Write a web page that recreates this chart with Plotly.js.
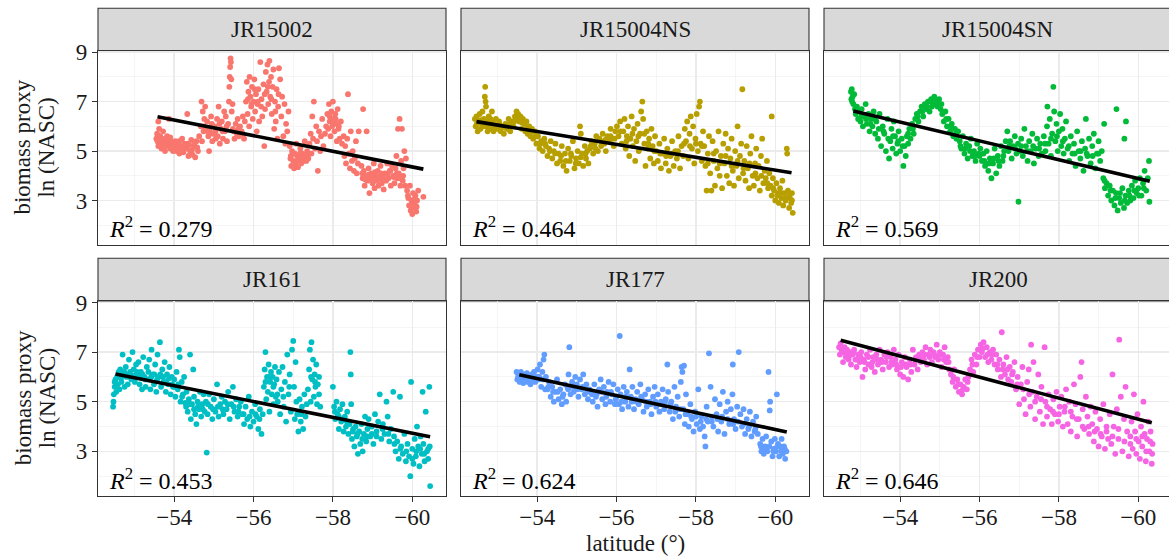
<!DOCTYPE html>
<html>
<head>
<meta charset="utf-8">
<script src="https://cdn.plot.ly/plotly-3.0.1.min.js"></script>
<style>html,body{margin:0;padding:0;overflow:hidden;background:#fff}#chart{width:1173px;height:558px}</style>
</head>
<body>
<div id="chart"></div>
<script>
// ---------- data ----------
const panelNames = ['JR15002', 'JR15004NS', 'JR15004SN', 'JR161', 'JR177', 'JR200'];
const panelColors = ['#F8766D', '#B79F00', '#00BA38', '#00BFC4', '#619CFF', '#F564E3'];
const r2Values = ['0.279', '0.464', '0.569', '0.453', '0.624', '0.646'];
// regression line end points: [lat start, lat end], [value start, value end]
const fitLat = [[-53.58, -60.28], [-52.47, -60.41], [-52.82, -60.29], [-52.52, -60.45], [-53.55, -60.29], [-52.50, -60.34]];
const fitVal = [[6.39, 4.27], [6.19, 4.12], [6.62, 3.78], [6.12, 3.59], [6.09, 3.78], [7.48, 4.15]];
const yTicks = [3, 5, 7, 9];
const xTicks = [-54, -56, -58, -60];

// [latitude, ln(NASC)] pairs
const jr15002 = [[-53.55,5.5],[-53.57,5.7],[-53.58,5.4],[-53.6,6.2],[-53.62,5.9],[-53.63,5.3],[-53.65,5.6],[-53.68,5.1],[-53.7,5.5],[-53.72,5.8],[-53.75,5.3],[-53.77,5.0],[-53.8,5.4],[-53.82,5.6],[-53.85,5.2],[-53.87,6.3],[-53.9,5.1],[-53.92,5.4],[-53.95,5.3],[-53.97,5.0],[-54.0,5.2],
[-54.03,5.4],[-54.06,5.0],[-54.1,5.3],[-54.13,4.9],[-54.16,5.2],[-54.2,5.5],[-54.23,4.95],[-54.27,5.1],[-54.33,6.5],[-54.33,5.3],[-54.36,4.8],[-54.4,5.0],[-54.43,5.45],[-54.46,4.85],[-54.5,5.2],[-54.53,4.75],[-54.56,5.4],[-54.6,5.0],[-54.63,5.6],
[-54.67,6.0],[-54.69,7.0],[-54.7,5.4],[-54.72,6.6],[-54.74,5.8],[-54.76,6.3],[-54.78,6.8],[-54.8,5.9],[-54.83,6.2],[-54.86,5.6],[-54.88,5.0],[-54.9,5.8],[-54.93,6.4],[-54.96,5.4],[-54.98,5.7],
[-55.02,6.0],[-55.05,5.5],[-55.08,6.3],[-55.1,5.6],[-55.12,6.8],[-55.15,5.3],[-55.18,5.9],[-55.2,6.2],[-55.23,5.5],[-55.26,6.6],[-55.28,5.8],[-55.3,6.4],[-55.33,5.4],[-55.36,6.1],[-55.38,7.0],[-55.39,7.6],[-55.4,8.0],[-55.41,8.4],[-55.42,8.75],[-55.43,8.6],[-55.44,7.9],[-55.45,6.6],[-55.47,6.9],[-55.48,5.9],
[-55.52,5.5],[-55.55,6.1],[-55.58,5.7],[-55.6,6.3],[-55.63,5.6],[-55.66,6.0],[-55.7,5.8],[-55.73,6.4],[-55.76,5.5],[-55.78,6.2],
[-55.81,7.0],[-55.83,7.8],[-55.85,6.5],[-55.87,7.4],[-55.89,6.0],[-55.9,8.0],[-55.92,7.2],[-55.94,6.8],[-55.96,7.6],[-55.98,6.3],[-56.0,7.0],[-56.02,7.9],[-56.04,6.6],[-56.06,7.3],[-56.08,5.8],[-56.1,6.9],[-56.12,7.5],[-56.14,6.2],[-56.17,8.6],[-56.2,7.1],[-56.22,6.4],[-56.25,7.7],[-56.27,5.2],[-56.29,6.7],
[-56.31,8.2],[-56.33,7.4],[-56.35,8.5],[-56.37,6.9],[-56.39,7.8],[-56.4,8.65],[-56.42,7.2],[-56.44,8.0],[-56.46,6.5],[-56.48,7.6],[-56.5,8.3],[-56.52,5.9],[-56.54,7.0],[-56.56,6.2],[-56.58,7.5],[-56.6,5.5],[-56.62,6.8],[-56.64,8.35],
[-56.67,7.9],[-56.7,6.4],[-56.72,7.2],[-56.75,5.6],[-56.78,6.9],[-56.8,5.3],[-56.82,6.1],[-56.85,5.8],[-56.88,6.6],
[-56.91,5.2],[-56.93,4.7],[-56.95,4.4],[-56.97,5.0],[-57.0,4.6],[-57.02,4.3],[-57.04,4.9],[-57.06,4.5],[-57.08,5.3],[-57.1,4.8],[-57.12,4.35],[-57.15,4.7],[-57.18,5.1],[-57.2,4.5],[-57.23,4.9],[-57.26,4.6],[-57.29,5.4],[-57.32,4.8],[-57.35,5.0],[-57.38,4.7],
[-57.41,5.3],[-57.44,5.7],[-57.46,4.9],[-57.48,6.4],[-57.5,5.5],[-57.52,7.0],[-57.55,5.1],[-57.58,6.0],[-57.6,5.4],[-57.62,4.2],[-57.65,5.8],[-57.68,5.0],[-57.7,5.6],[-57.73,6.3],[-57.76,5.2],[-57.8,5.7],[-57.83,6.0],
[-57.86,6.5],[-57.88,5.9],[-57.9,6.9],[-57.92,6.2],[-57.94,5.6],[-57.96,6.6],[-57.98,6.0],[-58.0,7.0],[-58.02,6.3],[-58.04,5.8],[-58.06,6.5],[-58.08,6.1],[-58.1,5.4],[-58.12,6.7],[-58.14,5.9],[-58.17,5.5],[-58.2,6.2],[-58.23,5.3],
[-58.27,5.6],[-58.29,4.8],[-58.31,5.2],[-58.33,4.5],[-58.36,5.5],[-58.38,7.3],[-58.4,4.9],[-58.43,4.3],[-58.45,5.8],[-58.48,4.6],[-58.5,5.0],[-58.53,4.2],[-58.55,4.7],[-58.58,5.4],[-58.6,4.1],[-58.63,4.5],[-58.65,5.8],[-58.76,6.7],
[-58.72,4.4],[-58.75,3.9],[-58.78,4.2],[-58.8,3.6],[-58.83,4.0],[-58.85,5.8],[-58.87,3.8],[-58.9,4.3],[-58.92,3.3],[-58.95,3.9],[-58.97,4.1],[-59.0,3.7],[-59.03,4.5],[-59.05,3.5],[-59.08,4.0],[-59.1,3.8],[-59.13,4.2],[-59.15,3.6],[-59.18,3.9],[-59.2,4.4],[-59.23,3.7],[-59.26,4.0],[-59.28,3.45],
[-59.31,4.1],[-59.34,3.8],[-59.37,4.5],[-59.4,3.9],[-59.43,4.2],[-59.46,3.6],[-59.49,4.4],[-59.52,4.0],[-59.55,3.7],[-59.58,4.3],[-59.6,4.8],[-59.62,3.9],[-59.64,5.9],[-59.66,4.1],[-59.68,6.3],[-59.7,3.6],[-59.72,4.6],[-59.74,5.9],[-59.76,3.8],[-59.78,4.3],[-59.8,5.0],[-59.82,3.6],[-59.84,4.7],
[-59.87,3.4],[-59.9,3.1],[-59.92,2.8],[-59.94,3.6],[-59.96,2.6],[-59.98,3.0],[-60.0,2.45],[-60.02,3.3],[-60.04,2.7],[-60.06,2.9],[-60.08,3.2],[-60.1,2.55],[-60.12,3.0],[-60.15,3.4],[-60.28,3.15]];
const jr15002Core = [[-53.6,5.2],[-53.66,5.45],[-53.74,5.15],[-53.83,5.35],[-53.9,5.55],[-53.98,5.3],[-54.05,5.15],[-54.12,5.4],[-54.18,5.05],[-54.25,5.3],[-54.32,5.1],[-54.38,5.25],[-54.45,5.05],[-54.52,5.35],[-54.58,5.15],
[-54.75,6.0],[-54.85,5.8],[-54.95,6.1],[-55.04,5.8],[-55.14,6.1],[-55.22,5.8],[-55.32,6.0],[-55.5,5.8],[-55.62,5.9],[-55.72,5.7],
[-55.86,7.1],[-55.95,6.9],[-56.03,7.5],[-56.11,7.0],[-56.19,6.8],[-56.28,7.3],[-56.36,7.6],[-56.45,7.1],[-56.55,6.6],[-56.63,7.3],
[-56.94,4.8],[-57.01,4.9],[-57.09,4.6],[-57.17,4.9],[-57.25,4.7],[-57.33,4.6],[-57.4,4.9],
[-57.92,6.4],[-58.0,6.2],[-58.07,6.3],[-58.15,6.0],
[-58.74,4.1],[-58.82,3.85],[-58.9,4.05],[-58.98,3.9],[-59.06,4.15],[-59.14,3.95],[-59.22,4.1],[-59.3,3.85],[-59.38,4.05],[-59.45,4.2],[-59.53,3.95],[-59.61,4.1],[-59.69,3.9],[-59.77,4.0],
[-59.89,3.2],[-59.97,2.8],[-60.05,3.05],[-60.11,2.75]];

const jr15004ns = [[-52.43,6.3],[-52.45,6.0],[-52.47,6.4],[-52.5,5.8],[-52.52,6.2],[-52.55,6.5],[-52.57,5.9],[-52.6,6.1],[-52.62,6.6],[-52.64,6.0],[-52.66,6.3],[-52.68,7.2],[-52.69,7.6],[-52.7,7.0],[-52.71,6.8],[-52.73,6.2],[-52.75,5.8],[-52.78,6.4],[-52.8,6.1],[-52.83,5.9],[-52.86,6.6],[-52.88,6.2],[-52.9,5.8],[-52.93,6.0],[-52.96,6.3],
[-53.0,5.9],[-53.04,6.2],[-53.08,5.8],[-53.12,6.0],[-53.16,5.7],[-53.2,6.1],[-53.24,5.9],[-53.28,6.3],[-53.32,5.8],[-53.36,6.2],[-53.4,6.0],[-53.44,6.4],[-53.48,6.6],[-53.52,6.5],[-53.55,6.2],[-53.58,6.4],[-53.61,5.9],[-53.64,6.3],[-53.67,6.1],[-53.7,5.8],[-53.73,6.2],[-53.76,5.7],[-53.8,6.0],[-53.83,5.6],[-53.87,5.9],
[-53.9,5.5],[-53.94,5.8],[-53.98,5.3],[-54.02,5.6],[-54.06,5.1],[-54.1,5.4],[-54.14,5.0],[-54.18,5.5],[-54.22,5.2],[-54.26,4.8],[-54.3,5.1],[-54.34,5.4],[-54.38,4.7],[-54.42,5.0],[-54.46,5.3],[-54.5,4.5],[-54.54,4.9],
[-54.58,4.6],[-54.62,5.2],[-54.66,4.4],[-54.7,4.9],[-54.74,4.2],[-54.78,5.1],[-54.82,4.6],[-54.86,4.8],[-54.9,5.4],[-54.94,4.3],[-54.98,4.7],[-55.02,5.0],[-55.05,4.5],[-55.08,6.0],[-55.1,5.7],[-55.13,4.9],[-55.16,4.4],[-55.2,5.2],[-55.23,4.7],[-55.26,5.0],[-55.29,4.5],
[-55.33,5.1],[-55.37,5.4],[-55.41,4.9],[-55.45,5.3],[-55.49,5.6],[-55.53,5.0],[-55.57,5.5],[-55.61,5.2],[-55.65,5.7],[-55.69,5.3],[-55.73,5.0],[-55.77,5.6],[-55.81,5.4],[-55.85,5.9],[-55.89,5.5],[-55.93,5.2],[-55.97,5.8],[-56.01,6.0],[-56.05,5.6],[-56.09,6.2],[-56.13,5.3],
[-56.17,5.8],[-56.2,6.3],[-56.23,5.1],[-56.26,5.6],[-56.29,6.0],[-56.32,4.8],[-56.35,5.5],[-56.38,6.4],[-56.41,5.2],[-56.44,5.9],[-56.47,4.6],[-56.5,5.4],[-56.53,6.1],[-56.56,5.0],[-56.59,5.7],[-56.62,6.6],[-56.65,7.0],[-56.67,6.3],[-56.7,5.3],[-56.73,4.4],[-56.76,5.8],[-56.79,5.1],[-56.82,5.5],[-56.85,4.7],[-56.88,5.9],[-56.91,5.2],[-56.94,4.5],[-56.97,5.6],
[-57.0,5.0],[-57.04,4.6],[-57.08,5.3],[-57.12,4.3],[-57.16,4.9],[-57.2,5.5],[-57.24,4.5],[-57.28,5.1],[-57.32,4.2],[-57.36,4.8],[-57.4,5.4],[-57.44,4.4],[-57.48,5.0],[-57.52,4.7],[-57.56,5.6],[-57.6,4.3],[-57.64,5.2],[-57.68,4.8],
[-57.72,5.9],[-57.75,5.4],[-57.78,6.2],[-57.81,4.7],[-57.84,5.7],[-57.87,6.4],[-57.9,5.1],[-57.93,6.0],[-57.96,4.5],[-57.99,5.5],[-58.02,6.5],[-58.05,5.0],[-58.08,6.8],[-58.1,7.0],[-58.12,5.3],[-58.15,4.6],[-58.18,5.8],
[-58.21,5.2],[-58.24,4.4],[-58.27,3.4],[-58.3,4.9],[-58.33,5.6],[-58.36,4.1],[-58.39,3.4],[-58.42,5.4],[-58.45,4.6],[-58.48,3.6],[-58.51,5.0],[-58.54,4.3],[-58.57,5.8],[-58.6,4.0],[-58.63,4.8],[-58.66,3.5],[-58.69,5.3],
[-58.72,4.5],[-58.75,5.7],[-58.78,4.0],[-58.81,5.1],[-58.84,3.7],[-58.87,4.7],[-58.9,5.5],[-58.93,4.2],[-58.96,3.6],[-58.99,5.0],[-59.02,4.4],[-59.05,6.0],[-59.08,3.9],[-59.11,4.8],[-59.14,5.3],[-59.17,7.5],[-59.19,4.1],
[-59.22,4.6],[-59.25,3.8],[-59.28,5.2],[-59.31,4.3],[-59.34,3.5],[-59.37,4.9],[-59.4,5.6],[-59.43,4.0],[-59.46,3.6],[-59.49,4.5],[-59.52,5.1],[-59.55,3.9],[-59.58,4.4],[-59.61,3.4],[-59.64,4.8],[-59.67,5.5],[-59.7,3.7],[-59.73,4.2],[-59.76,3.9],[-59.79,4.6],[-59.82,3.5],[-59.85,4.1],[-59.91,6.4],
[-59.88,3.6],[-59.91,3.2],[-59.94,3.9],[-59.97,3.4],[-60.0,3.0],[-60.03,3.7],[-60.06,3.3],[-60.09,2.9],[-60.12,3.5],[-60.15,3.1],[-60.18,3.8],[-60.2,2.8],[-60.23,3.3],[-60.26,3.0],[-60.29,5.1],[-60.3,4.9],[-60.32,3.4],[-60.35,2.7],[-60.37,3.1],[-60.4,2.9],[-60.42,3.3],[-60.44,2.5]];
const jr15004nsCore = [[-52.48,6.1],[-52.58,6.25],[-52.72,6.0],[-52.82,6.3],[-52.95,6.05],[-53.06,6.05],[-53.18,5.95],[-53.3,6.1],[-53.42,6.2],[-53.5,6.3],[-53.62,6.15],[-53.75,6.0],[-53.85,5.8],[-53.96,5.6],[-54.08,5.3],[-54.2,5.3],[-54.32,5.0],[-54.45,4.9],[-54.6,4.8],[-54.72,4.6],[-54.85,4.9],[-54.97,4.5],[-55.1,4.75],[-55.22,4.9],[-55.35,5.2],[-55.47,5.1],[-55.6,5.4],[-55.72,5.45],[-55.85,5.6],[-55.95,5.5],[-56.1,5.8],[-56.25,5.4],[-56.4,5.7],[-56.55,5.6],[-56.7,5.7],[-56.8,5.3],[-56.95,5.0],[-57.1,4.9],[-57.25,4.8],[-57.4,4.9],[-57.55,5.0],[-57.7,5.3],[-57.85,5.2],[-58.0,5.3],[-58.15,5.2],[-58.3,4.5],[-58.45,4.9],[-58.6,4.5],[-58.75,4.8],[-58.9,4.4],[-59.05,4.6],[-59.2,4.3],[-59.35,4.5],[-59.5,4.1],[-59.65,4.0],[-59.8,3.7],[-59.95,3.5],[-60.05,3.2],[-60.15,3.3],[-60.25,3.1],[-60.35,3.2],[-60.42,3.0]];

const jr15004sn = [[-52.76,7.4],[-52.77,7.1],[-52.78,7.5],[-52.8,7.2],[-52.82,6.9],[-52.84,7.3],[-52.86,6.7],
[-52.88,6.5],[-52.91,6.8],[-52.94,6.3],[-52.97,6.6],[-53.0,6.2],[-53.03,6.7],[-53.06,6.0],[-53.1,6.4],[-53.13,6.9],[-53.16,6.1],[-53.2,6.5],[-53.23,5.8],[-53.26,6.3],[-53.3,6.0],[-53.33,6.6],[-53.37,5.7],
[-53.4,6.2],[-53.44,5.5],[-53.48,6.5],[-53.52,5.2],[-53.56,6.0],[-53.6,5.7],[-53.64,5.0],[-53.68,6.3],[-53.72,4.7],[-53.75,5.4],[-53.78,5.9],[-53.81,5.1],[-53.84,6.2],[-53.87,5.6],[-53.9,4.9],[-53.93,5.3],[-53.96,5.8],[-54.0,5.0],[-54.04,5.5],[-54.08,4.4],[-54.11,5.2],[-54.14,4.8],
[-54.17,5.6],[-54.2,5.3],[-54.23,5.9],[-54.26,5.5],[-54.3,6.1],[-54.34,5.7],[-54.38,6.3],[-54.42,6.5],[-54.46,6.2],
[-54.5,6.6],[-54.54,6.8],[-54.58,6.4],[-54.62,6.9],[-54.66,6.7],[-54.7,7.0],[-54.74,6.6],[-54.78,7.1],[-54.82,6.9],[-54.86,7.2],[-54.9,7.0],[-54.94,6.8],[-54.98,7.1],[-55.02,6.7],
[-55.06,6.5],[-55.1,6.2],[-55.14,6.6],[-55.18,6.0],[-55.22,6.3],[-55.26,5.8],[-55.3,6.1],[-55.34,5.6],[-55.38,5.9],[-55.42,5.5],[-55.46,5.8],
[-55.5,5.4],[-55.54,5.1],[-55.58,5.6],[-55.62,4.9],[-55.66,5.3],[-55.7,4.7],[-55.74,5.2],[-55.78,5.5],[-55.82,4.8],[-55.86,5.0],[-55.9,4.6],[-55.94,5.3],[-55.98,4.9],[-56.02,5.1],[-56.06,4.6],
[-56.1,4.9],[-56.14,4.4],[-56.18,5.0],[-56.22,4.2],[-56.26,4.7],[-56.3,3.9],[-56.34,4.5],[-56.38,5.1],[-56.42,4.1],[-56.46,4.8],[-56.5,4.4],[-56.54,5.2],[-56.58,4.6],[-56.62,5.0],[-56.66,5.4],[-56.7,5.8],[-56.98,2.95],
[-56.73,5.0],[-56.77,5.4],[-56.81,4.7],[-56.85,5.2],[-56.89,5.6],[-56.93,4.9],[-56.97,5.3],[-57.01,5.0],[-57.05,5.5],[-57.09,4.8],[-57.13,5.9],[-57.17,5.2],[-57.21,4.6],[-57.25,5.4],[-57.29,5.0],[-57.33,5.7],[-57.37,4.5],[-57.41,5.1],[-57.45,5.5],[-57.49,4.8],[-57.53,5.3],[-57.57,4.9],
[-57.62,5.6],[-57.66,5.0],[-57.7,6.0],[-57.71,6.8],[-57.74,5.3],[-57.77,6.3],[-57.8,4.8],[-57.83,5.7],[-57.86,7.6],[-57.88,6.6],[-57.91,5.4],[-57.94,6.1],[-57.97,5.0],[-58.0,5.8],[-58.03,6.5],[-58.06,5.2],[-58.09,5.9],[-58.12,4.9],[-58.15,5.5],[-58.18,6.2],
[-58.22,5.1],[-58.26,4.6],[-58.3,5.6],[-58.34,4.9],[-58.38,5.3],[-58.42,4.4],[-58.46,5.8],[-58.5,5.0],[-58.54,4.7],[-58.58,5.4],[-58.62,4.2],[-58.66,5.1],[-58.68,6.3],[-58.72,4.8],[-58.76,5.5],[-58.8,4.5],[-58.84,5.2],[-58.88,5.7],[-58.92,4.3],[-58.96,4.9],[-59.0,5.4],[-59.04,4.6],[-59.08,5.0],[-59.14,6.1],
[-59.12,3.9],[-59.16,3.5],[-59.2,3.7],[-59.24,3.2],[-59.28,3.6],[-59.32,3.0],[-59.36,3.4],[-59.4,2.8],[-59.44,3.3],[-59.45,6.7],[-59.48,2.6],[-59.52,3.1],[-59.56,2.9],[-59.6,3.5],[-59.64,2.7],[-59.65,5.5],[-59.68,3.2],[-59.69,6.2],[-59.72,2.9],[-59.76,3.4],[-59.8,3.0],[-59.84,3.6],[-59.88,3.1],[-59.92,3.8],[-59.96,3.3],[-60.0,3.5],[-60.04,3.9],[-60.08,3.2],
[-60.12,3.7],[-60.16,4.2],[-60.2,3.4],[-60.24,3.9],[-60.27,4.6],[-60.28,2.95]];
const jr15004snCore = [[-52.79,7.0],[-52.9,6.6],[-53.02,6.4],[-53.14,6.3],[-53.25,6.1],[-53.35,6.3],[-53.46,5.9],[-53.58,5.8],[-53.7,5.5],[-53.82,5.6],[-53.95,5.4],[-54.06,5.2],[-54.2,5.7],[-54.32,5.9],[-54.44,6.4],[-54.56,6.6],[-54.68,6.8],[-54.8,6.8],[-54.92,6.9],[-55.04,6.9],[-55.16,6.3],[-55.28,6.0],[-55.4,5.7],[-55.52,5.2],[-55.64,5.1],[-55.76,5.0],[-55.88,4.8],[-56.0,4.8],[-56.12,4.6],[-56.24,4.5],[-56.36,4.7],[-56.48,4.6],[-56.6,4.8],[-56.75,5.2],[-56.9,5.1],[-57.05,5.2],[-57.2,5.0],[-57.35,5.2],[-57.5,5.1],[-57.65,5.3],[-57.8,5.5],[-57.95,5.6],[-58.1,5.4],[-58.25,5.2],[-58.4,4.9],[-58.55,5.0],[-58.7,4.9],[-58.85,4.8],[-59.0,4.9],[-59.15,3.8],[-59.3,3.4],[-59.42,3.1],[-59.54,3.3],[-59.66,3.0],[-59.78,3.2],[-59.9,3.4],[-60.02,3.2],[-60.14,3.5]];

const jr161 = [[-52.46,4.8],[-52.47,5.0],[-52.48,5.3],[-52.5,5.6],[-52.52,5.9],[-52.54,5.4],[-52.56,6.0],[-52.58,5.7],[-52.6,6.2],[-52.62,5.5],
[-52.64,6.3],[-52.67,5.8],[-52.7,6.9],[-52.72,6.1],[-52.75,5.6],[-52.78,6.4],[-52.8,6.0],[-52.83,5.7],[-52.86,6.7],[-52.89,6.2],[-52.92,5.9],[-52.95,7.0],[-52.98,6.3],[-53.01,5.8],[-53.04,6.5],[-53.07,6.0],
[-53.1,6.6],[-53.13,5.7],[-53.16,6.2],[-53.19,5.5],[-53.22,6.8],[-53.25,6.0],[-53.28,5.6],[-53.31,6.4],[-53.34,5.9],[-53.37,6.7],[-53.4,5.5],[-53.43,7.1],[-53.46,6.1],[-53.49,5.7],[-53.52,6.5],[-53.55,5.4],[-53.58,6.9],[-53.61,6.0],[-53.64,7.4],[-53.67,5.6],[-53.7,6.3],[-53.73,5.8],[-53.76,6.6],[-53.79,5.4],[-53.82,6.1],[-53.85,5.7],[-53.88,6.4],[-53.91,5.3],[-53.94,6.0],[-53.97,5.6],
[-54.0,5.9],[-54.03,5.2],[-54.06,6.2],[-54.09,5.5],[-54.12,7.1],[-54.14,6.8],[-54.16,5.0],[-54.19,5.8],[-54.22,5.3],[-54.25,6.0],[-54.28,4.95],
[-54.31,5.4],[-54.34,4.6],[-54.37,5.1],[-54.4,6.9],[-54.42,4.3],[-54.45,4.9],[-54.48,6.3],[-54.5,5.2],[-54.53,4.5],[-54.56,4.1],[-54.59,5.0],[-54.62,4.7],[-54.65,5.4],[-54.68,4.4],[-54.71,4.9],[-54.74,5.3],[-54.77,4.6],[-54.82,2.95],
[-54.8,5.0],[-54.84,4.5],[-54.88,5.3],[-54.92,4.8],[-54.96,4.3],[-55.0,5.1],[-55.04,4.6],[-55.08,5.7],[-55.12,4.4],[-55.16,4.9],[-55.2,5.2],[-55.24,4.5],[-55.28,5.0],[-55.32,4.7],[-55.36,5.4],[-55.4,4.3],[-55.44,4.9],[-55.48,5.6],[-55.52,4.6],[-55.56,5.1],[-55.6,4.4],[-55.64,4.8],
[-55.68,5.0],[-55.72,4.5],[-55.76,4.1],[-55.8,4.8],[-55.84,4.3],[-55.88,5.2],[-55.92,4.0],[-55.96,4.6],[-56.0,4.2],[-56.04,4.9],[-56.08,4.4],[-56.12,3.9],[-56.16,4.7],[-56.2,3.7],[-56.23,4.5],
[-56.26,5.6],[-56.28,6.3],[-56.3,7.0],[-56.32,5.1],[-56.34,6.0],[-56.36,5.4],[-56.38,6.5],[-56.4,4.6],[-56.42,5.8],[-56.44,6.2],[-56.46,5.3],[-56.48,6.0],[-56.5,4.9],[-56.52,5.7],[-56.54,6.4],[-56.56,5.2],[-56.58,5.9],
[-56.61,5.0],[-56.64,6.2],[-56.67,4.5],[-56.7,5.5],[-56.73,6.4],[-56.76,4.8],[-56.79,5.8],[-56.82,4.2],[-56.85,6.9],[-56.88,5.3],[-56.91,6.1],[-56.94,4.6],[-56.97,7.1],[-57.0,7.45],[-57.02,5.6],[-57.04,4.3],[-57.06,6.6],[-57.08,5.0],
[-57.1,4.5],[-57.13,3.8],[-57.16,5.1],[-57.19,4.2],[-57.22,4.8],[-57.25,3.9],[-57.28,5.3],[-57.31,4.4],[-57.34,4.9],
[-57.37,5.5],[-57.4,6.3],[-57.42,7.1],[-57.44,5.0],[-57.46,7.4],[-57.48,5.9],[-57.5,6.7],[-57.52,5.2],[-57.54,6.1],[-57.56,5.6],[-57.58,6.5],[-57.6,4.9],[-57.62,5.7],[-57.65,5.3],[-57.68,4.8],
[-58.0,5.6],[-58.03,4.8],[-58.06,4.3],[-58.09,5.0],[-58.12,4.5],[-58.15,3.9],[-58.18,4.7],[-58.21,4.2],[-58.24,4.9],[-58.27,3.8],[-58.3,4.4],[-58.33,4.0],[-58.36,4.6],[-58.39,3.7],
[-58.42,4.1],[-58.44,7.0],[-58.45,6.1],[-58.46,4.9],[-58.48,3.5],[-58.51,3.9],[-58.54,3.2],[-58.57,4.0],[-58.6,3.6],[-58.63,2.9],[-58.66,3.8],[-58.69,3.3],[-58.72,4.1],[-58.75,3.0],[-58.78,3.7],[-58.81,4.4],[-58.84,3.4],[-58.87,3.9],
[-58.9,4.3],[-58.94,3.6],[-58.98,4.0],[-59.02,3.3],[-59.06,4.5],[-59.1,3.8],[-59.14,4.2],[-59.18,5.3],[-59.22,3.5],[-59.26,4.1],[-59.3,3.7],[-59.35,5.0],[-59.38,4.4],[-59.42,3.4],[-59.46,3.9],
[-59.52,5.4],[-59.54,3.6],[-59.58,3.0],[-59.62,3.4],[-59.66,2.7],[-59.69,5.2],[-59.72,3.2],[-59.76,2.9],[-59.8,3.7],[-59.84,2.6],[-59.88,3.3],[-59.92,2.8],
[-59.95,2.0],[-59.97,5.8],[-60.0,3.1],[-60.03,2.5],[-60.06,3.5],[-60.09,2.8],[-60.12,4.0],[-60.15,3.2],[-60.18,2.4],[-60.21,3.6],[-60.24,2.9],[-60.26,5.4],[-60.28,3.3],[-60.31,2.6],[-60.34,4.6],[-60.37,3.0],[-60.4,2.7],[-60.43,5.6],[-60.44,3.2],[-60.45,1.6]];
const jr161Core = [[-52.5,5.8],[-52.58,6.05],[-52.66,5.95],[-52.74,6.2],[-52.82,6.1],[-52.9,6.0],[-52.98,6.05],[-53.06,6.2],[-53.14,6.0],[-53.2,6.1],[-53.27,5.9],[-53.35,6.2],[-53.42,6.0],[-53.5,6.1],[-53.57,5.9],[-53.65,6.1],[-53.72,6.0],[-53.8,5.8],[-53.87,5.95],[-53.95,5.7],[-54.02,5.6],[-54.1,5.7],[-54.2,5.2],[-54.3,4.8],[-54.4,4.9],[-54.5,4.7],[-54.6,4.8],[-54.72,4.7],[-54.85,4.9],[-54.98,4.7],[-55.1,4.8],[-55.22,4.7],[-55.35,4.9],[-55.5,4.8],[-55.62,4.6],[-55.75,4.5],[-55.9,4.4],[-56.05,4.5],[-56.15,4.3],[-56.3,5.8],[-56.4,6.0],[-56.5,5.6],[-56.6,5.3],[-56.75,5.2],[-56.9,5.6],[-57.2,4.5],[-57.45,6.0],[-57.55,5.8],[-57.65,6.0],[-58.05,4.6],[-58.15,4.4],[-58.25,4.3],[-58.35,4.2],[-58.5,3.8],[-58.62,3.7],[-58.74,3.5],[-58.86,3.6],[-58.98,3.7],[-59.1,3.6],[-59.25,3.9],[-59.4,3.7],[-59.55,3.3],[-59.7,3.1],[-59.85,3.0],[-60.0,2.7],[-60.1,3.0],[-60.2,3.1],[-60.3,2.9],[-60.4,3.1]];

const jr177 = [[-53.48,6.2],[-53.5,5.9],[-53.53,6.1],[-53.56,5.8],[-53.59,6.2],[-53.62,6.0],[-53.65,5.75],[-53.68,6.1],[-53.71,5.9],[-53.74,6.15],[-53.77,5.8],[-53.8,6.0],[-53.83,5.7],[-53.86,6.1],[-53.89,5.9],[-53.92,6.2],[-53.95,5.8],[-53.98,6.0],
[-54.01,6.3],[-54.04,5.9],[-54.07,6.5],[-54.1,5.6],[-54.13,6.2],[-54.16,6.7],[-54.18,6.9],[-54.2,5.5],[-54.22,6.0],
[-54.26,5.5],[-54.3,5.8],[-54.34,5.2],[-54.38,5.6],[-54.42,5.0],[-54.46,5.4],[-54.5,5.9],[-54.54,5.1],[-54.58,5.5],[-54.62,4.9],[-54.66,5.3],[-54.7,5.7],[-54.73,5.0],
[-54.76,5.6],[-54.79,6.1],[-54.81,7.2],[-54.84,5.3],[-54.88,5.8],[-54.92,5.4],[-54.96,6.0],[-55.0,5.7],[-55.04,5.2],[-55.08,5.9],[-55.12,5.5],[-55.16,6.1],[-55.2,5.3],[-55.24,5.7],[-55.28,5.1],[-55.32,5.5],
[-55.36,5.4],[-55.4,5.0],[-55.44,5.7],[-55.48,5.2],[-55.52,4.8],[-55.56,5.5],[-55.6,5.9],[-55.64,5.1],[-55.68,5.6],[-55.72,4.9],[-55.76,5.4],[-55.8,5.8],[-55.84,5.0],[-55.88,5.3],[-55.92,5.7],[-55.96,4.9],[-56.0,5.2],
[-56.03,5.5],[-56.06,4.9],[-56.08,7.65],[-56.1,5.3],[-56.14,4.7],[-56.18,5.6],[-56.22,5.0],[-56.26,5.4],[-56.3,4.8],[-56.33,6.3],[-56.36,5.2],[-56.4,5.6],[-56.44,4.7],[-56.48,5.1],
[-56.52,5.4],[-56.56,4.9],[-56.6,5.7],[-56.64,5.1],[-56.68,4.6],[-56.72,5.3],[-56.76,4.8],[-56.8,5.5],[-56.84,5.0],[-56.88,4.5],[-56.92,5.2],[-56.96,5.6],[-57.0,4.8],[-57.04,5.3],[-57.08,4.6],[-57.12,5.0],[-57.16,5.5],[-57.2,4.7],[-57.24,5.1],
[-57.28,6.5],[-57.3,5.4],[-57.34,4.6],[-57.38,5.0],[-57.42,4.3],[-57.46,5.6],[-57.5,4.8],[-57.54,5.2],[-57.58,4.4],[-57.62,5.8],[-57.64,6.4],[-57.66,6.2],[-57.68,4.7],[-57.7,6.45],[-57.72,4.1],[-57.75,5.3],
[-57.78,4.5],[-57.82,4.0],[-57.86,4.9],[-57.9,4.3],[-57.94,3.8],[-57.98,4.6],[-58.02,4.1],[-58.06,5.5],[-58.1,3.9],[-58.14,4.4],[-58.18,4.0],[-58.22,3.6],[-58.24,3.2],[-58.27,4.8],[-58.3,4.2],[-58.33,6.95],
[-58.37,5.6],[-58.4,4.4],[-58.44,4.0],[-58.48,5.1],[-58.52,4.5],[-58.56,3.8],[-58.6,4.9],[-58.64,4.2],[-58.68,5.4],[-58.72,3.7],[-58.76,4.6],[-58.8,5.0],[-58.84,4.1],[-58.88,4.7],[-58.92,5.3],[-58.93,6.5],[-58.96,4.3],[-59.0,3.9],[-59.04,4.8],[-59.08,7.0],
[-59.12,4.5],[-59.16,4.0],[-59.2,4.7],[-59.24,3.7],[-59.28,4.3],[-59.32,3.9],[-59.36,4.6],[-59.4,3.6],[-59.44,4.2],[-59.48,3.8],[-59.52,4.4],[-59.56,3.7],
[-59.62,3.3],[-59.65,3.0],[-59.68,3.5],[-59.71,2.9],[-59.74,3.2],[-59.77,3.6],[-59.8,3.0],[-59.83,6.2],[-59.86,4.65],[-59.87,5.0],[-59.9,3.4],[-59.93,2.8],[-59.96,3.1],[-59.99,3.5],[-60.02,3.0],[-60.04,5.3],[-60.07,3.3],[-60.1,2.8],[-60.13,3.2],[-60.16,3.5],[-60.19,2.9],[-60.22,3.2],[-60.25,2.7],[-60.28,3.0]];
const jr177Core = [[-53.52,6.0],[-53.6,5.95],[-53.7,6.0],[-53.78,6.05],[-53.88,5.95],[-53.96,5.9],[-54.05,6.0],[-54.15,5.9],[-54.28,5.6],[-54.4,5.4],[-54.52,5.4],[-54.64,5.2],[-54.78,5.5],[-54.9,5.6],[-55.02,5.5],[-55.14,5.6],[-55.26,5.4],[-55.38,5.3],[-55.5,5.3],[-55.62,5.4],[-55.74,5.2],[-55.86,5.4],[-55.98,5.1],[-56.12,5.0],[-56.24,5.2],[-56.38,5.0],[-56.5,5.0],[-56.62,5.2],[-56.74,5.0],[-56.86,4.9],[-56.98,5.0],[-57.1,4.9],[-57.22,5.0],[-57.36,4.9],[-57.48,4.6],[-57.6,4.7],[-57.74,4.5],[-57.88,4.4],[-58.0,4.4],[-58.12,4.2],[-58.26,4.3],[-58.4,4.2],[-58.54,4.3],[-58.66,4.4],[-58.8,4.3],[-58.94,4.1],[-59.06,4.2],[-59.2,4.1],[-59.34,4.0],[-59.5,3.9],[-59.64,3.2],[-59.75,3.1],[-59.85,3.2],[-59.95,3.0],[-60.05,3.2],[-60.15,3.0],[-60.24,3.1]];

const jr200 = [[-52.46,7.2],[-52.48,6.9],[-52.5,7.35],[-52.53,7.0],[-52.56,6.6],[-52.6,7.2],[-52.63,6.8],[-52.66,7.1],[-52.7,6.7],[-52.73,7.0],[-52.76,6.5],[-52.8,6.9],[-52.84,7.1],[-52.87,6.7],
[-52.9,6.4],[-52.94,6.9],[-52.98,6.6],[-53.02,7.0],[-53.05,6.0],[-53.08,6.7],[-53.12,6.3],[-53.16,6.9],[-53.2,6.5],[-53.24,7.1],[-53.28,6.4],[-53.32,6.8],[-53.36,6.2],[-53.4,6.9],[-53.44,6.5],[-53.48,7.1],[-53.52,6.7],[-53.56,6.3],[-53.6,6.9],[-53.64,6.6],[-53.68,7.0],[-53.72,6.4],[-53.76,6.8],[-53.8,6.5],[-53.84,7.1],[-53.88,6.7],
[-53.92,6.3],[-53.96,6.9],[-54.0,6.1],[-54.04,6.6],[-54.08,6.0],[-54.12,6.8],[-54.16,6.4],[-54.2,5.9],[-54.24,6.7],[-54.28,6.2],[-54.32,7.1],[-54.36,6.5],[-54.4,6.8],[-54.44,6.3],[-54.48,6.9],[-54.52,6.6],
[-54.56,7.0],[-54.6,6.7],[-54.64,7.2],[-54.68,6.5],[-54.72,6.9],[-54.76,7.1],[-54.8,6.6],[-54.84,7.0],[-54.88,6.8],[-54.92,7.3],[-54.96,6.7],[-55.0,7.0],[-55.04,6.4],[-55.08,6.9],[-55.12,7.2],[-55.16,6.6],[-55.2,6.8],[-55.24,6.3],
[-55.28,6.1],[-55.32,5.8],[-55.36,6.3],[-55.4,5.6],[-55.44,5.9],[-55.48,5.4],[-55.52,5.7],[-55.56,5.3],[-55.6,5.6],[-55.64,5.9],[-55.68,5.5],[-55.72,6.0],
[-55.76,6.3],[-55.8,6.7],[-55.84,6.2],[-55.88,6.9],[-55.92,6.5],[-55.96,7.1],[-56.0,6.8],
[-56.03,7.3],[-56.06,7.0],[-56.1,7.4],[-56.14,6.8],[-56.18,7.2],[-56.22,6.6],[-56.26,7.0],[-56.3,6.7],[-56.34,7.1],[-56.38,6.5],
[-56.42,6.9],[-56.46,6.3],[-56.5,6.7],[-56.54,6.0],[-56.56,7.8],[-56.6,6.5],[-56.64,6.1],[-56.68,6.8],[-56.72,5.9],[-56.76,6.4],[-56.8,5.8],[-56.84,6.2],[-56.88,6.6],
[-56.92,5.5],[-56.96,6.0],[-57.0,4.9],[-57.04,5.7],[-57.08,6.4],[-57.12,5.1],[-57.16,4.5],[-57.2,5.8],[-57.24,6.3],[-57.28,4.8],[-57.3,7.3],[-57.33,5.4],[-57.36,6.6],[-57.4,4.3],[-57.44,5.2],[-57.48,6.1],[-57.52,4.6],[-57.56,5.6],[-57.6,4.1],[-57.64,7.2],
[-57.66,5.0],[-57.7,4.4],[-57.74,5.3],[-57.78,4.7],[-57.82,4.1],[-57.86,5.1],[-57.9,4.5],[-57.94,5.4],[-57.98,4.2],[-58.02,4.8],[-58.06,5.2],[-58.1,4.0],
[-58.14,4.6],[-58.18,5.5],[-58.22,4.1],[-58.26,5.0],[-58.3,3.8],[-58.34,4.4],[-58.38,5.7],[-58.42,4.9],[-58.46,3.6],[-58.5,4.3],[-58.54,6.0],[-58.57,6.6],[-58.6,4.7],[-58.64,3.9],[-58.68,5.2],
[-58.72,4.4],[-58.76,3.7],[-58.8,4.8],[-58.84,4.1],[-58.88,3.4],[-58.92,4.6],[-58.96,3.9],[-59.0,3.2],[-59.04,4.3],[-59.08,3.6],[-59.12,4.9],[-59.16,3.1],[-59.2,4.0],[-59.24,3.5],
[-59.28,4.5],[-59.32,3.3],[-59.35,6.1],[-59.38,4.0],[-59.42,2.9],[-59.46,4.7],[-59.5,3.5],[-59.52,7.5],[-59.56,5.2],[-59.6,3.0],[-59.64,4.3],[-59.68,5.6],[-59.72,3.8],[-59.76,2.8],
[-59.8,3.6],[-59.83,4.2],[-59.86,3.1],[-59.89,5.3],[-59.92,3.8],[-59.95,2.9],[-59.98,4.5],[-60.01,3.4],[-60.04,2.7],[-60.07,4.0],[-60.1,3.2],[-60.13,5.0],[-60.16,3.7],[-60.19,2.6],[-60.22,3.5],[-60.25,4.2],[-60.28,3.0],[-60.31,3.8],[-60.34,2.5],[-60.36,3.3]];
const jr200Core = [[-52.52,7.1],[-52.62,6.95],[-52.72,6.85],[-52.82,7.0],[-52.92,6.7],[-53.0,6.8],[-53.1,6.6],[-53.2,6.8],[-53.3,6.6],[-53.42,6.7],[-53.54,6.6],[-53.66,6.8],[-53.78,6.6],[-53.9,6.5],[-54.02,6.4],[-54.14,6.5],[-54.26,6.5],[-54.38,6.7],[-54.5,6.8],[-54.62,6.9],[-54.74,6.8],[-54.86,6.9],[-54.98,6.85],[-55.1,6.7],[-55.22,6.6],[-55.34,6.0],[-55.46,5.7],[-55.58,5.5],[-55.7,5.8],[-55.82,6.5],[-55.94,6.8],[-56.08,7.15],[-56.2,6.9],[-56.32,6.9],[-56.45,6.5],[-56.58,6.3],[-56.7,6.3],[-56.82,6.1],[-56.95,5.7],[-57.1,5.5],[-57.25,5.3],[-57.4,5.0],[-57.55,5.1],[-57.7,4.8],[-57.85,4.6],[-58.0,4.5],[-58.15,4.8],[-58.3,4.6],[-58.45,4.3],[-58.6,4.0],[-58.75,4.0],[-58.9,3.8],[-59.05,3.7],[-59.2,3.8],[-59.35,3.6],[-59.5,3.9],[-59.65,3.4],[-59.8,3.3],[-59.95,3.5],[-60.1,3.6],[-60.2,3.0],[-60.3,3.4],[-60.35,2.9]];

const panelData = [
  jr15002.concat(jr15002Core), jr15004ns.concat(jr15004nsCore), jr15004sn.concat(jr15004snCore),
  jr161.concat(jr161Core), jr177.concat(jr177Core), jr200.concat(jr200Core)
];

// ---------- layout geometry (pixels) ----------
const W = 1173, H = 558;
const colX = [[98, 446], [461, 809], [824, 1172]];
const rowPlot = [[50.7, 244.5], [301, 495.5]];
const rowStrip = [[8.3, 50.7], [258.3, 301]];
const px = x => x / W;
const py = y => 1 - y / H;
const FONT = '"Liberation Serif", "Times New Roman", serif';
const TXT = '#1A1A1A';

const traces = [];
const layout = {
  width: W, height: H,
  margin: {l: 0, r: 0, t: 0, b: 0},
  paper_bgcolor: '#FFFFFF', plot_bgcolor: '#FFFFFF',
  showlegend: false,
  font: {family: FONT, size: 23, color: TXT},
  shapes: [], annotations: []
};

for (let i = 0; i < 6; i++) {
  const row = Math.floor(i / 3), col = i % 3;
  const ax = i === 0 ? '' : String(i + 1);
  const pts = panelData[i];
  traces.push({
    type: 'scatter', mode: 'markers',
    x: pts.map(p => p[0]), y: pts.map(p => p[1]),
    xaxis: 'x' + ax, yaxis: 'y' + ax,
    marker: {color: panelColors[i], size: 5.8, line: {width: 0}},
    hoverinfo: 'skip'
  });
  traces.push({
    type: 'scatter', mode: 'lines',
    x: fitLat[i], y: fitVal[i],
    xaxis: 'x' + ax, yaxis: 'y' + ax,
    line: {color: '#000000', width: 3.6},
    hoverinfo: 'skip'
  });
  const common = {
    showline: true, mirror: true, linecolor: '#333333', linewidth: 1.1,
    showgrid: true, gridcolor: '#EBEBEB', gridwidth: 1.4,
    zeroline: false, fixedrange: true,
    tickfont: {family: FONT, size: 23, color: TXT},
    tickcolor: '#333333', tickwidth: 1.1, ticklen: 5
  };
  layout['xaxis' + ax] = Object.assign({}, common, {
    domain: [px(colX[col][0]), px(colX[col][1])],
    anchor: 'y' + ax,
    range: [-52.08, -60.85],
    tickmode: 'array', tickvals: xTicks, ticktext: xTicks.map(v => '\u2212' + Math.abs(v)),
    ticks: row === 1 ? 'outside' : '',
    showticklabels: row === 1,
    ticklabelstandoff: -4,
    minor: {tickmode: 'array', tickvals: [-53, -55, -57, -59], showgrid: true, gridcolor: '#F2F2F2', gridwidth: 0.8, ticks: ''}
  });
  layout['yaxis' + ax] = Object.assign({}, common, {
    domain: [py(rowPlot[row][1]), py(rowPlot[row][0])],
    anchor: 'x' + ax,
    range: [1.22, 9.06],
    tickmode: 'array', tickvals: yTicks, ticktext: yTicks.map(String),
    ticks: col === 0 ? 'outside' : '',
    showticklabels: col === 0,
    minor: {tickmode: 'array', tickvals: [2, 4, 6, 8], showgrid: true, gridcolor: '#F2F2F2', gridwidth: 0.8, ticks: ''}
  });
  // strip
  layout.shapes.push({
    type: 'rect', xref: 'paper', yref: 'paper',
    x0: px(colX[col][0]), x1: px(colX[col][1]),
    y0: py(rowStrip[row][1]), y1: py(rowStrip[row][0]),
    fillcolor: '#D9D9D9', line: {color: '#333333', width: 1.1}, layer: 'below'
  });
  layout.annotations.push({
    xref: 'paper', yref: 'paper', showarrow: false,
    x: px((colX[col][0] + colX[col][1]) / 2), y: py((rowStrip[row][0] + rowStrip[row][1]) / 2),
    xanchor: 'center', yanchor: 'middle',
    text: panelNames[i], font: {family: FONT, size: 23, color: TXT}
  });
  // R^2 label
  layout.annotations.push({
    xref: 'paper', yref: 'paper', showarrow: false,
    x: px(colX[col][0] + 9), y: py(rowPlot[row][1] - 17),
    xanchor: 'left', yanchor: 'middle',
    text: '<i>R</i><sup>2</sup> = ' + r2Values[i],
    font: {family: FONT, size: 24, color: '#000000'}
  });
}

// y-axis titles (two lines, one per row)
for (let row = 0; row < 2; row++) {
  const yc = (rowPlot[row][0] + rowPlot[row][1]) / 2;
  [['biomass proxy', 23], ['ln (NASC)', 47]].forEach(([t, xx]) => {
    layout.annotations.push({
      xref: 'paper', yref: 'paper', showarrow: false,
      x: px(xx), y: py(yc), xanchor: 'center', yanchor: 'middle',
      textangle: -90, text: t, font: {family: FONT, size: 23, color: TXT}
    });
  });
}
// x-axis title
layout.annotations.push({
  xref: 'paper', yref: 'paper', showarrow: false,
  x: px(635), y: py(543), xanchor: 'center', yanchor: 'middle',
  text: 'latitude (\u00B0)', font: {family: FONT, size: 23, color: TXT}
});

Plotly.newPlot('chart', traces, layout, {displayModeBar: false, staticPlot: true});
</script>
</body>
</html>
